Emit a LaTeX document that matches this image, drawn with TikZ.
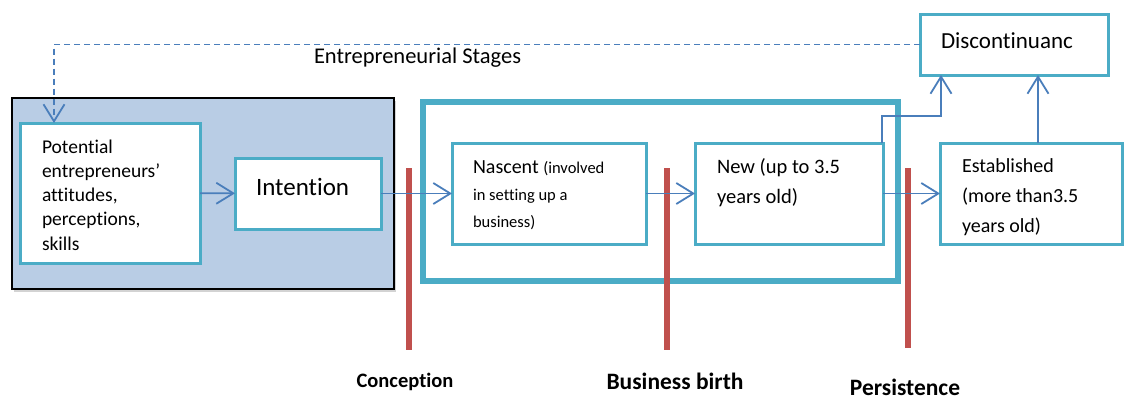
\documentclass[tikz,border=0pt]{standalone}
\usepackage{fontspec}
\setmainfont{Carlito}[Ligatures=NoCommon]
\usetikzlibrary{arrows.meta,calc,shadows}
\definecolor{tealline}{HTML}{4BACC6}
\definecolor{bluefill}{HTML}{B9CDE5}
\definecolor{arrowblue}{HTML}{4A7EBB}
\definecolor{redline}{HTML}{C0504D}
\begin{document}
\begin{tikzpicture}[x=1pt,y=-1pt,
  tbox/.style={draw=tealline, line width=3pt, fill=white, inner sep=0pt, outer sep=0pt},
  stagebox/.style={draw=black, line width=2.2pt, fill=bluefill, inner sep=0pt, outer sep=0pt,
    drop shadow={shadow xshift=2pt, shadow yshift=-3pt, opacity=0.35}},
  birthbox/.style={draw=tealline, line width=5.5pt, inner sep=0pt, outer sep=0pt},
  flow/.style={draw=arrowblue, line width=1.8pt, -{Straight Barb[length=17pt,width=21pt,line width=1.8pt]}},
  dflow/.style={flow, dash pattern=on 6pt off 4pt},
  redbar/.style={draw=redline, line width=5.5pt},
  txt/.style={inner sep=0pt, outer sep=0pt, align=left, anchor=base west},
  lab/.style={inner sep=0pt, anchor=base, font=\bfseries}
]
\useasboundingbox (0,0) rectangle (1125,399);

% containers
\node[stagebox, minimum width=382pt, minimum height=191pt] (stage) at (203,193.5) {};
\node[birthbox, minimum width=475pt, minimum height=179pt] (birth) at (660.5,191.5) {};

% stage boundaries
\coordinate (r1t) at (409,168); \coordinate (r1b) at (409,350);
\coordinate (r2t) at (667,168); \coordinate (r2b) at (667,350);
\coordinate (r3t) at (908,168); \coordinate (r3b) at (908,348);
\draw[redbar] (r1t) -- (r1b);
\draw[redbar] (r2t) -- (r2b);
\draw[redbar] (r3t) -- (r3b);

% boxes
\node[tbox, minimum width=180pt, minimum height=140pt] (pot) at (110,193) {};
\node[tbox, minimum width=146pt, minimum height=71pt] (intent) at (308,193.5) {};
\node[tbox, minimum width=194pt, minimum height=101pt] (nasc) at (549,193.5) {};
\node[tbox, minimum width=188pt, minimum height=101pt] (new) at (789,193.5) {};
\node[tbox, minimum width=182pt, minimum height=101pt] (est) at (1031,193.5) {};
\node[tbox, minimum width=188pt, minimum height=61pt] (disc) at (1014,44.5) {};

% texts (anchor = baseline of the last line)
\node[txt, font=\fontsize{19.5}{24.3}\selectfont] (pottxt) at (42,250.2)
  {Potential\\entrepreneurs’\\attitudes,\\perceptions,\\skills};
\node[txt, font=\fontsize{25}{30}\selectfont] (inttxt) at (256,195) {Intention};
\node[txt, font=\fontsize{20}{27}\selectfont] (nasctxt) at (473,227)
  {Nascent {\fontsize{16.5}{27}\selectfont (involved}\\{\fontsize{16.5}{27}\selectfont in setting up a}\\{\fontsize{16.5}{27}\selectfont business)}};
\node[txt, font=\fontsize{20.5}{30}\selectfont] (newtxt) at (717,203) {New (up to 3.5\\years old)};
\node[txt, font=\fontsize{20}{30}\selectfont] (esttxt) at (962,232) {Established\\(more than3.5\\years old)};
\node[txt, font=\fontsize{23}{28}\selectfont] (disctxt) at (941,48) {Discontinuanc};
\node[txt, font=\fontsize{22.5}{28}\selectfont] (stagetitle) at (314,63) {Entrepreneurial Stages};

% stage labels
\node[lab, font=\bfseries\fontsize{20.5}{24}\selectfont] (conc) at (405,387) {Conception};
\node[lab, font=\bfseries\fontsize{23.5}{28}\selectfont] (bbirth) at (675,389) {Business birth};
\node[lab, font=\bfseries\fontsize{23.5}{28}\selectfont] (pers) at (905,395) {Persistence};

% connectors
\draw[flow] (pot) -- (intent);
\draw[flow] (intent) -- (nasc);
\draw[flow] (nasc) -- (new);
\draw[flow] (new) -- (est);
\draw[flow] ($(new.north east)+(-1,0)$) -- ++(0,-27) -| ($(disc.south west)+(21,0)$);
\draw[flow] ($(est.north west)+(98,0)$) -- ($(disc.south west)+(118,0)$);
\draw[dflow] (disc.west) -| ($(pot.north west)+(34,0)$);
\end{tikzpicture}
\end{document}
